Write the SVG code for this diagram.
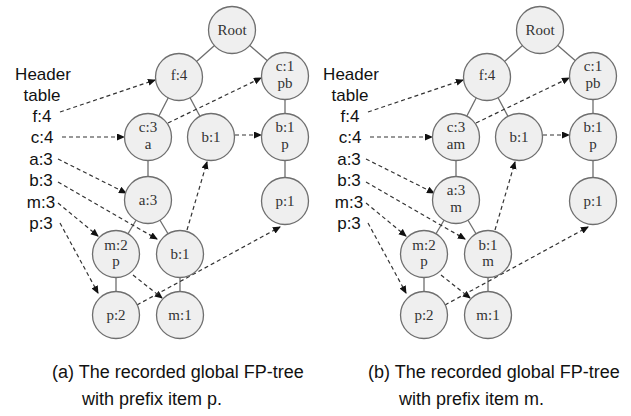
<svg xmlns="http://www.w3.org/2000/svg" width="631" height="416" viewBox="0 0 631 416">
  <style>
    .node use { fill: #efefef; stroke: #6e6e6e; stroke-width: 1.3; }
    .node text { font-family: "Liberation Serif", "Times New Roman", serif; font-size: 15px; fill: #333; text-anchor: middle; }
    .edge { stroke: #6e6e6e; stroke-width: 1.3; fill: none; }
    .link { stroke: #333; stroke-width: 1.2; stroke-dasharray: 4 3; fill: none; marker-end: url(#arrow); }
    .hdr { font-family: "Liberation Sans", Arial, sans-serif; font-size: 17px; fill: #111; text-anchor: middle; }
    .cap { font-family: "Liberation Sans", Arial, sans-serif; font-size: 18px; fill: #111; }
  </style>
  <defs>
    <marker id="arrow" markerWidth="8" markerHeight="8" refX="7" refY="3.5" orient="auto" markerUnits="userSpaceOnUse">
      <path d="M0,0 L8,3.5 L0,7 Z" fill="#111"/>
    </marker>
    <circle id="c" r="23.5"/>
  </defs>

  <rect width="631" height="416" fill="#fff"/>

  <!-- Panel (a) -->
  <g id="panel-a">
    <g id="connectors-a">
      <!-- tree edges -->
      <line class="edge" x1="232" y1="30" x2="179" y2="77"/>
      <line class="edge" x1="232" y1="30" x2="285" y2="76"/>
      <line class="edge" x1="179" y1="77" x2="148" y2="137"/>
      <line class="edge" x1="179" y1="77" x2="211" y2="137"/>
      <line class="edge" x1="285" y1="76" x2="285" y2="137"/>
      <line class="edge" x1="285" y1="137" x2="285" y2="201"/>
      <line class="edge" x1="148" y1="137" x2="148" y2="200"/>
      <line class="edge" x1="148" y1="200" x2="116" y2="254"/>
      <line class="edge" x1="148" y1="200" x2="180" y2="254"/>
      <line class="edge" x1="116" y1="254" x2="116" y2="315"/>
      <line class="edge" x1="180" y1="254" x2="180" y2="315"/>
      <!-- node links -->
      <line class="link" x1="60" y1="112" x2="155" y2="80"/>
      <line class="link" x1="62" y1="137" x2="124" y2="137"/>
      <line class="link" x1="168" y1="123" x2="261" y2="78"/>
      <line class="link" x1="58" y1="159" x2="126" y2="193"/>
      <line class="link" x1="58" y1="182" x2="157" y2="239"/>
      <line class="link" x1="235" y1="135" x2="261" y2="135"/>
      <line class="link" x1="187" y1="230" x2="207" y2="162"/>
      <line class="link" x1="58" y1="203" x2="98" y2="236"/>
      <line class="link" x1="133" y1="275" x2="162" y2="298"/>
      <line class="link" x1="60" y1="223" x2="98" y2="293"/>
      <line class="link" x1="137" y1="305" x2="280" y2="227"/>
    </g>
    <g id="a-root" class="node"><use href="#c" x="232" y="30"/><text x="232" y="35">Root</text></g>
    <g id="a-f4" class="node"><use href="#c" x="179" y="77"/><text x="179" y="80">f:4</text></g>
    <g id="a-c1" class="node"><use href="#c" x="285" y="76"/><text x="285" y="71">c:1</text><text x="285" y="88">pb</text></g>
    <g id="a-c3" class="node"><use href="#c" x="148" y="137"/><text x="148" y="132">c:3</text><text x="148" y="149">a</text></g>
    <g id="a-b1u" class="node"><use href="#c" x="211" y="137"/><text x="211" y="142">b:1</text></g>
    <g id="a-b1p" class="node"><use href="#c" x="285" y="137"/><text x="285" y="132">b:1</text><text x="285" y="149">p</text></g>
    <g id="a-a3" class="node"><use href="#c" x="148" y="200"/><text x="148" y="205">a:3</text></g>
    <g id="a-p1" class="node"><use href="#c" x="285" y="201"/><text x="285" y="206">p:1</text></g>
    <g id="a-m2" class="node"><use href="#c" x="116" y="254"/><text x="116" y="250">m:2</text><text x="116" y="266">p</text></g>
    <g id="a-b1l" class="node"><use href="#c" x="180" y="254"/><text x="180" y="259">b:1</text></g>
    <g id="a-p2" class="node"><use href="#c" x="116" y="315"/><text x="116" y="320">p:2</text></g>
    <g id="a-m1" class="node"><use href="#c" x="180" y="315"/><text x="180" y="320">m:1</text></g>
    <g id="a-header">
      <text class="hdr" x="43" y="80">Header</text>
      <text class="hdr" x="42" y="101">table</text>
      <text class="hdr" x="42" y="122">f:4</text>
      <text class="hdr" x="42" y="143">c:4</text>
      <text class="hdr" x="41" y="165">a:3</text>
      <text class="hdr" x="41" y="186">b:3</text>
      <text class="hdr" x="41" y="208">m:3</text>
      <text class="hdr" x="41" y="229">p:3</text>
    </g>
    <text class="cap" x="52" y="378">(a) The recorded global FP-tree</text>
    <text class="cap" x="82" y="405">with prefix item p.</text>
  </g>

  <!-- Panel (b) -->
  <g id="panel-b" transform="translate(308,0)">
    <g id="connectors-b">
      <line class="edge" x1="232" y1="30" x2="179" y2="77"/>
      <line class="edge" x1="232" y1="30" x2="285" y2="76"/>
      <line class="edge" x1="179" y1="77" x2="148" y2="137"/>
      <line class="edge" x1="179" y1="77" x2="211" y2="137"/>
      <line class="edge" x1="285" y1="76" x2="285" y2="137"/>
      <line class="edge" x1="285" y1="137" x2="285" y2="201"/>
      <line class="edge" x1="148" y1="137" x2="148" y2="200"/>
      <line class="edge" x1="148" y1="200" x2="116" y2="254"/>
      <line class="edge" x1="148" y1="200" x2="180" y2="254"/>
      <line class="edge" x1="116" y1="254" x2="116" y2="315"/>
      <line class="edge" x1="180" y1="254" x2="180" y2="315"/>
      <line class="link" x1="60" y1="112" x2="155" y2="80"/>
      <line class="link" x1="62" y1="137" x2="124" y2="137"/>
      <line class="link" x1="168" y1="123" x2="261" y2="78"/>
      <line class="link" x1="58" y1="159" x2="126" y2="193"/>
      <line class="link" x1="58" y1="182" x2="157" y2="239"/>
      <line class="link" x1="235" y1="135" x2="261" y2="135"/>
      <line class="link" x1="187" y1="230" x2="207" y2="162"/>
      <line class="link" x1="58" y1="203" x2="98" y2="236"/>
      <line class="link" x1="133" y1="275" x2="162" y2="298"/>
      <line class="link" x1="60" y1="223" x2="98" y2="293"/>
      <line class="link" x1="137" y1="305" x2="280" y2="227"/>
    </g>
    <g id="b-root" class="node"><use href="#c" x="232" y="30"/><text x="232" y="35">Root</text></g>
    <g id="b-f4" class="node"><use href="#c" x="179" y="77"/><text x="179" y="80">f:4</text></g>
    <g id="b-c1" class="node"><use href="#c" x="285" y="76"/><text x="285" y="71">c:1</text><text x="285" y="88">pb</text></g>
    <g id="b-c3" class="node"><use href="#c" x="148" y="137"/><text x="148" y="132">c:3</text><text x="148" y="149">am</text></g>
    <g id="b-b1u" class="node"><use href="#c" x="211" y="137"/><text x="211" y="142">b:1</text></g>
    <g id="b-b1p" class="node"><use href="#c" x="285" y="137"/><text x="285" y="132">b:1</text><text x="285" y="149">p</text></g>
    <g id="b-a3" class="node"><use href="#c" x="148" y="200"/><text x="148" y="195">a:3</text><text x="148" y="212">m</text></g>
    <g id="b-p1" class="node"><use href="#c" x="285" y="201"/><text x="285" y="206">p:1</text></g>
    <g id="b-m2" class="node"><use href="#c" x="116" y="254"/><text x="116" y="250">m:2</text><text x="116" y="266">p</text></g>
    <g id="b-b1l" class="node"><use href="#c" x="180" y="254"/><text x="180" y="250">b:1</text><text x="180" y="266">m</text></g>
    <g id="b-p2" class="node"><use href="#c" x="116" y="315"/><text x="116" y="320">p:2</text></g>
    <g id="b-m1" class="node"><use href="#c" x="180" y="315"/><text x="180" y="320">m:1</text></g>
    <g id="b-header">
      <text class="hdr" x="43" y="80">Header</text>
      <text class="hdr" x="42" y="101">table</text>
      <text class="hdr" x="42" y="122">f:4</text>
      <text class="hdr" x="42" y="143">c:4</text>
      <text class="hdr" x="41" y="165">a:3</text>
      <text class="hdr" x="41" y="186">b:3</text>
      <text class="hdr" x="41" y="208">m:3</text>
      <text class="hdr" x="41" y="229">p:3</text>
    </g>
    <text class="cap" x="60" y="378">(b) The recorded global FP-tree</text>
    <text class="cap" x="91" y="405">with prefix item m.</text>
  </g>
</svg>
